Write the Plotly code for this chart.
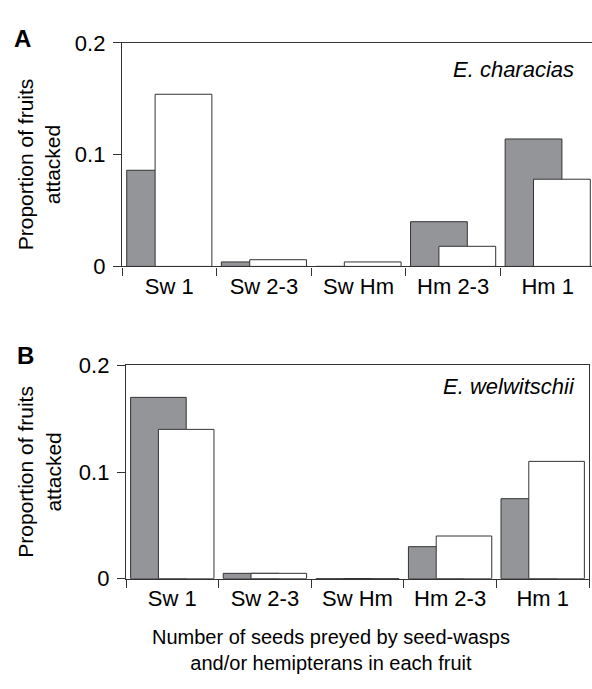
import plotly.graph_objects as go

categories = ["Sw 1", "Sw 2-3", "Sw Hm", "Hm 2-3", "Hm 1"]
a_gray = [0.086, 0.004, 0.0, 0.040, 0.114]
a_white = [0.154, 0.006, 0.004, 0.018, 0.078]
b_gray = [0.170, 0.005, 0.0, 0.030, 0.075]
b_white = [0.140, 0.005, 0.0, 0.040, 0.110]
y_ticks = [0, 0.1, 0.2]
y_tick_text = ["0", "0.1", "0.2"]

W, H = 592, 689
FONT = "Liberation Sans, Arial, sans-serif"
AX = "#333333"
GRAY = "#939598"

def px(x):
    return x / W

def py(y):
    return 1 - y / H

fig = go.Figure()

bar_w = 0.6
for vals, color, off, xa, ya in [
    (a_gray, GRAY, -0.45, "x", "y"),
    (a_white, "white", -0.15, "x", "y"),
    (b_gray, GRAY, -0.45, "x2", "y2"),
    (b_white, "white", -0.15, "x2", "y2"),
]:
    fig.add_trace(go.Bar(
        x=categories, y=vals, width=[bar_w] * len(vals), offset=off,
        marker=dict(color=color, line=dict(color=AX, width=1)),
        xaxis=xa, yaxis=ya, showlegend=False,
    ))

tickfont = dict(family=FONT, size=22, color="black")
common_x = dict(type="category", tickson="boundaries", ticks="outside", ticklen=8,
                tickwidth=1.3, tickcolor=AX, showline=True, linecolor=AX, linewidth=1.3,
                showgrid=False, zeroline=False, tickfont=tickfont, mirror=True,
                ticklabelstandoff=0, fixedrange=True)
common_y = dict(range=[0, 0.2], tickvals=y_ticks, ticktext=y_tick_text, ticks="outside",
                ticklen=8, tickwidth=1.3, tickcolor=AX, showline=True, linecolor=AX,
                linewidth=1.3, showgrid=False, zeroline=False, tickfont=tickfont,
                ticklabelstandoff=3)

fig.update_layout(
    width=W, height=H, margin=dict(l=0, r=0, t=0, b=0),
    paper_bgcolor="white", plot_bgcolor="white", barmode="overlay",
    font=dict(family=FONT, color="black"),
    xaxis=dict(common_x, domain=[px(122), 1.0], range=[-0.5, 4.468], anchor="y"),
    yaxis=dict(common_y, domain=[py(264), py(32)], anchor="x", mirror=False),
    xaxis2=dict(common_x, domain=[px(126), px(589)], range=[-0.5, 4.5], anchor="y2"),
    yaxis2=dict(common_y, domain=[py(588), py(366.7)], anchor="x2", mirror=True),
)

ann = [
    dict(text="<b>A</b>", x=px(22), y=py(28), size=24),
    dict(text="<b>B</b>", x=px(25), y=py(356), size=24),
    dict(text="<i>E. characias</i>", x=px(576), y=py(60), size=22, xanchor="right"),
    dict(text="<i>E. welwitschii</i>", x=px(577), y=py(389), size=22, xanchor="right"),
    dict(text="Proportion of fruits<br>attacked", x=px(39), y=py(158), size=21, textangle=-90),
    dict(text="Proportion of fruits<br>attacked", x=px(39), y=py(477), size=21, textangle=-90),
    dict(text="Number of seeds preyed by seed-wasps<br>and/or hemipterans in each fruit",
         x=px(331), y=py(662), size=20),
]
for a in ann:
    fig.add_annotation(text=a["text"], x=a["x"], y=a["y"], xref="paper", yref="paper",
                       showarrow=False, xanchor=a.get("xanchor", "center"), yanchor="middle",
                       textangle=a.get("textangle", 0),
                       font=dict(family=FONT, size=a["size"], color="black"))

fig.write_html("out.html")
